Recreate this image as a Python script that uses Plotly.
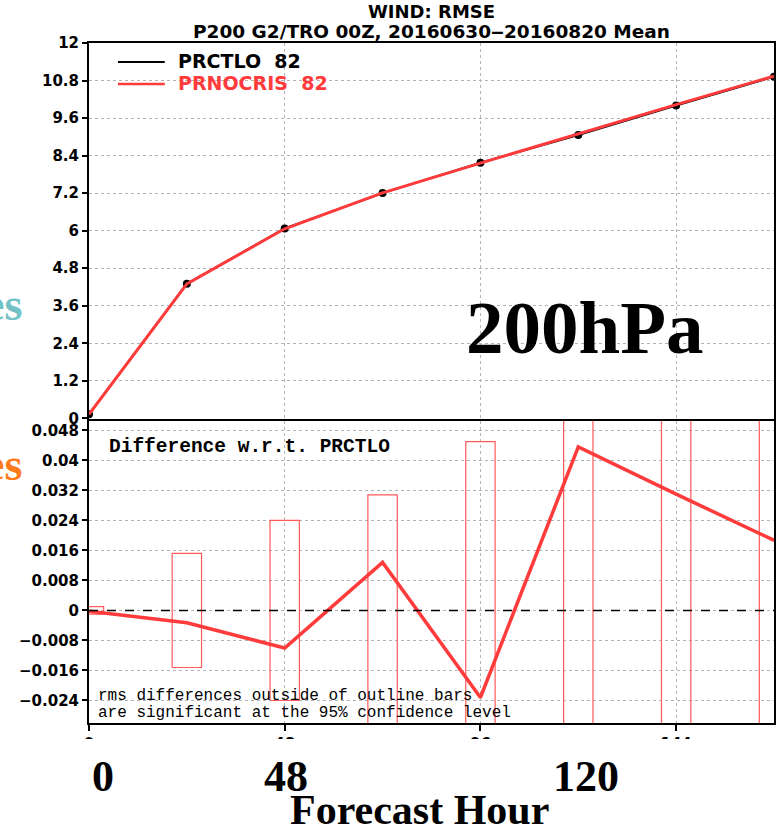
import plotly.graph_objects as go

# ---------------- data ----------------
hours = [0, 24, 48, 72, 96, 120, 144, 168]
rmse_prctlo = [0.13, 4.30, 6.07, 7.20, 8.17, 9.06, 10.00, 10.92]
rmse_prnocris = [0.13, 4.30, 6.06, 7.21, 8.16, 9.10, 10.03, 10.94]
rmse_diff = [-0.0002, -0.0033, -0.0100, 0.0128, -0.0232, 0.0436, 0.0310, 0.0187]
ci_half = [0.0010, 0.0152, 0.0240, 0.0308, 0.0450, 0.0600, 0.0650, 0.0700]

top_ticks = [0, 1.2, 2.4, 3.6, 4.8, 6, 7.2, 8.4, 9.6, 10.8, 12]
top_ticktext = ["0", "1.2", "2.4", "3.6", "4.8", "6", "7.2", "8.4", "9.6", "10.8", "12"]
bot_ticks = [-0.024, -0.016, -0.008, 0, 0.008, 0.016, 0.024, 0.032, 0.04, 0.048]
bot_ticktext = ["\u22120.024", "\u22120.016", "\u22120.008", "0", "0.008", "0.016",
                "0.024", "0.032", "0.04", "0.048"]
x_ticks = [0, 48, 96, 144]
x_ticktext = ["0", "48", "96", "144"]
big_x_labels = ["0", "48", "120"]

BOX_HALF = 3.6  # hours (style)

# ---------------- geometry helpers ----------------
L, R, T, B = 89, 776, 43, 723
W, H = R - L, B - T


def px(x):
    return (x - L) / W


def py(y):
    return (B - y) / H


RED = "#ff3b3b"
BOXRED = "#ff5a5a"
GRID = "#b4b4b4"

fig = go.Figure()

# top panel
fig.add_trace(go.Scatter(x=hours, y=rmse_prctlo, mode="lines+markers", name="PRCTLO  82",
                         line=dict(color="black", width=2),
                         marker=dict(color="black", size=8, symbol="circle"),
                         xaxis="x", yaxis="y", showlegend=False))
fig.add_trace(go.Scatter(x=hours, y=rmse_prnocris, mode="lines", name="PRNOCRIS  82",
                         line=dict(color=RED, width=3),
                         xaxis="x", yaxis="y", showlegend=False))

# bottom panel: outline bars
bx, by = [], []
for h, c in zip(hours, ci_half):
    bx += [h - BOX_HALF, h + BOX_HALF, h + BOX_HALF, h - BOX_HALF, h - BOX_HALF, None]
    by += [-c, -c, c, c, -c, None]
fig.add_trace(go.Scatter(x=bx, y=by, mode="lines", line=dict(color=BOXRED, width=1.2),
                         xaxis="x2", yaxis="y2", showlegend=False, hoverinfo="skip"))
fig.add_trace(go.Scatter(x=hours, y=rmse_diff, mode="lines", line=dict(color=RED, width=3.5),
                         xaxis="x2", yaxis="y2", showlegend=False))

tickfont = dict(family="DejaVu Sans", size=15, color="black", weight="bold")

axis_common = dict(showline=True, linecolor="black", linewidth=2, mirror=True,
                   showgrid=True, gridcolor=GRID, griddash="dot", gridwidth=1,
                   zeroline=False)

fig.update_layout(
    width=780, height=834,
    margin=dict(l=L, r=780 - R, t=T, b=834 - B),
    paper_bgcolor="white", plot_bgcolor="white",
    xaxis=dict(domain=[0, 1], anchor="y", range=[0, 168], tickvals=x_ticks,
               showticklabels=False, ticks="", **axis_common),
    yaxis=dict(domain=[py(418.5), 1], anchor="x", range=[-0.006, 12],
               tickvals=top_ticks, ticktext=top_ticktext, ticks="outside", ticklen=5,
               tickcolor="black", tickwidth=1.5, tickfont=tickfont, **axis_common),
    xaxis2=dict(domain=[0, 1], anchor="y2", range=[0, 168], tickvals=x_ticks,
                ticktext=x_ticktext, ticks="outside", ticklen=6, tickcolor="black",
                tickwidth=2, tickfont=tickfont, ticklabelstandoff=0, **axis_common),
    yaxis2=dict(domain=[0, py(421)], anchor="x2", range=[-0.0300, 0.0505],
                tickvals=bot_ticks, ticktext=bot_ticktext, ticks="outside", ticklen=5,
                tickcolor="black", tickwidth=1.5, tickfont=tickfont, **axis_common),
)

shapes = []
# zero dashed line in bottom panel
shapes.append(dict(type="line", xref="x2", x0=0, x1=168, yref="y2", y0=0, y1=0,
                   line=dict(color="black", width=1.5, dash="dash"), layer="above"))
# legend lines
shapes.append(dict(type="line", xref="paper", yref="paper", x0=px(118), x1=px(165),
                   y0=py(62), y1=py(62), line=dict(color="black", width=2)))
shapes.append(dict(type="line", xref="paper", yref="paper", x0=px(118), x1=px(165),
                   y0=py(84), y1=py(84), line=dict(color=RED, width=2.5)))
# white cover over lower part of the original x tick labels
shapes.append(dict(type="rect", xref="paper", yref="paper", x0=-0.2, x1=1.2,
                   y0=-0.3, y1=py(739), fillcolor="white", line=dict(width=0), layer="above"))
fig.update_layout(shapes=shapes)

ann = []


def text(x, y, s, size, family, color="black", bold=True, xanchor="center"):
    f = dict(family=family, size=size, color=color)
    if bold:
        f["weight"] = "bold"
    ann.append(dict(x=px(x), y=py(y), xref="paper", yref="paper", text=s, showarrow=False,
                    xanchor=xanchor, yanchor="middle", font=f))


text(432.5, 12, "WIND: RMSE", 18, "DejaVu Sans")
text(432.5, 31, "P200 G2/TRO 00Z, 20160630\u201220160820 Mean", 18.5, "DejaVu Sans")
text(176, 61, "PRCTLO  82", 19, "DejaVu Sans", xanchor="left")
text(176, 83, "PRNOCRIS  82", 19, "DejaVu Sans", color=RED, xanchor="left")
text(107, 447, "Difference w.r.t. PRCTLO", 19.5, "Liberation Mono", xanchor="left")
text(96, 696, "rms differences outside of outline bars", 16, "Liberation Mono",
     bold=False, xanchor="left")
text(96, 713, "are significant at the 95% confidence level", 16, "Liberation Mono",
     bold=False, xanchor="left")
text(586, 328, "200hPa", 75, "Liberation Serif")
text(24, 304, "es", 46, "Liberation Serif", color="#72c2c6", xanchor="right")
text(24, 464, "es", 46, "Liberation Serif", color="#ff7a1a", xanchor="right")
for xp, s in zip([103, 287, 587], big_x_labels):
    text(xp, 776, s, 44, "Liberation Serif")
text(420, 810, "Forecast Hour", 42, "Liberation Serif")

fig.update_layout(annotations=ann)

fig.write_html("out.html")
